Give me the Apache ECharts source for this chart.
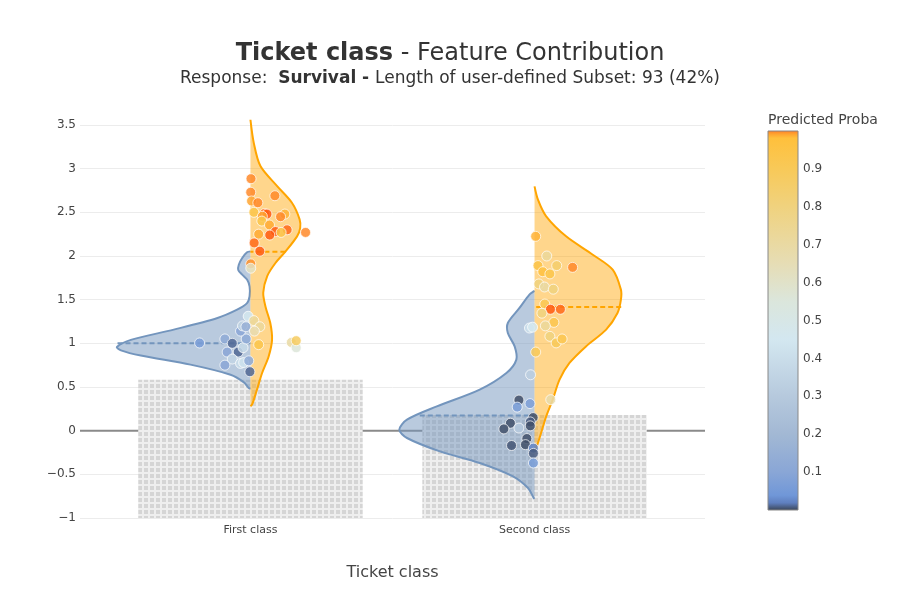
<!DOCTYPE html>
<html><head><meta charset="utf-8">
<script src="https://cdn.jsdelivr.net/npm/echarts@6/dist/echarts.min.js"></script>
<style>html,body{margin:0;padding:0;background:#fff}#c{width:900px;height:600px}</style>
</head><body><div id="c"></div>
<script>
// ---------- data ----------
const categories = ['First class', 'Second class'];
const barValues = [0.584, 0.18];
const colorbarTicks = [0.1, 0.2, 0.3, 0.4, 0.5, 0.6, 0.7, 0.8, 0.9];

// violin outlines: [contribution, half width] from top to bottom
const firstNeg = [[2.053,0],[2.042,0.012],[1.977,0.029],[1.90,0.041],[1.84,0.043],[1.786,0.029],[1.73,0.012],[1.65,0.003],[1.54,0.003],[1.46,0.012],[1.385,0.047],[1.29,0.116],[1.157,0.27],[1.04,0.421],[0.958,0.47],[0.92,0.456],[0.86,0.386],[0.756,0.211],[0.64,0.07],[0.553,0.023],[0.489,0.006],[0.48,0]];
const firstPos = [[3.56,0],[3.29,0.012],[3.03,0.035],[2.80,0.094],[2.61,0.146],[2.42,0.173],[2.32,0.175],[2.225,0.164],[2.05,0.123],[1.92,0.088],[1.77,0.059],[1.58,0.045],[1.42,0.053],[1.23,0.07],[1.04,0.076],[0.85,0.064],[0.66,0.041],[0.47,0.023],[0.30,0.006],[0.28,0]];
const secondNeg = [[1.6,0],[1.595,0.003],[1.557,0.018],[1.405,0.053],[1.233,0.094],[1.118,0.094],[0.965,0.07],[0.813,0.064],[0.66,0.099],[0.47,0.193],[0.278,0.344],[0.126,0.449],[0.011,0.476],[-0.084,0.449],[-0.237,0.333],[-0.37,0.193],[-0.523,0.076],[-0.657,0.023],[-0.77,0.003],[-0.78,0]];
const secondPos = [[2.797,0],[2.645,0.012],[2.454,0.041],[2.225,0.111],[2.015,0.205],[1.844,0.275],[1.615,0.304],[1.50,0.304],[1.347,0.292],[1.157,0.252],[0.965,0.181],[0.775,0.123],[0.584,0.088],[0.355,0.064],[0.164,0.041],[-0.027,0.023],[-0.18,0.008],[-0.237,0]];
// mean lines: [contribution, half width]
const meanFirstNeg = [1.0, 0.468];
const meanFirstPos = [2.05, 0.123];
const meanSecondNeg = [0.175, 0.404];
const meanSecondPos = [1.416, 0.305];

// scatter points: [x position, contribution, predicted proba]
const firstClassPoints = [
 [0.002,2.885,0.997],[0.001,2.73,0.997],[0.086,2.69,0.997],[0.004,2.63,0.99],[0.026,2.61,0.997],
 [0.012,2.50,0.94],[0.049,2.485,0.999],[0.058,2.48,1.0],[0.042,2.455,0.99],[0.040,2.40,0.94],
 [0.121,2.48,0.985],[0.106,2.45,0.997],[0.067,2.355,0.988],[0.088,2.28,1.0],[0.129,2.30,0.999],
 [0.108,2.27,0.95],[0.068,2.24,1.0],[0.029,2.25,0.988],[0.194,2.27,0.997],[0.013,2.15,0.999],
 [0.033,2.055,1.0],[0.001,1.91,0.995],[0.001,1.86,0.62],
 [-0.179,1.004,0.06],[-0.090,1.05,0.12],[-0.064,1.00,0.012],[-0.082,0.90,0.1],[-0.043,0.90,0.012],
 [-0.026,0.95,0.38],[-0.015,1.05,0.12],[-0.035,1.14,0.1],[-0.028,1.20,0.35],[-0.008,1.31,0.46],
 [-0.016,1.19,0.15],[0.012,1.26,0.72],[0.033,1.19,0.72],[0.014,1.14,0.66],[0.029,0.985,0.94],
 [-0.064,0.82,0.36],[-0.090,0.75,0.1],[-0.035,0.77,0.4],[-0.024,0.78,0.42],[-0.006,0.80,0.12],
 [-0.002,0.675,0.012],[0.144,1.01,0.7],[0.161,0.95,0.56],[0.161,1.03,0.88]
];
const secondClassPoints = [
 [1.004,2.225,0.985],[1.043,2.00,0.72],[1.012,1.89,0.95],[1.029,1.82,0.975],[1.054,1.795,0.94],
 [1.078,1.89,0.85],[1.134,1.87,0.997],[1.015,1.68,0.8],[1.035,1.645,0.7],[1.066,1.62,0.8],
 [1.036,1.45,0.92],[1.056,1.39,1.0],[1.091,1.39,0.999],[1.026,1.345,0.8],[1.068,1.24,0.93],
 [1.038,1.20,0.72],[1.054,1.08,0.8],[1.076,1.005,0.9],[1.097,1.05,0.93],[1.004,0.90,0.9],
 [1.057,0.355,0.68],
 [0.982,1.175,0.42],[0.993,1.185,0.46],[0.986,0.64,0.33],[0.945,0.35,0.004],[0.939,0.27,0.06],
 [0.984,0.31,0.07],[0.995,0.15,0.004],[0.985,0.10,0.008],[0.915,0.085,0.004],[0.985,0.055,0.004],
 [0.892,0.02,0.004],[0.945,0.03,0.3],[0.973,-0.09,0.004],[0.968,-0.16,0.004],[0.919,-0.17,0.006],
 [0.996,-0.20,0.025],[0.996,-0.26,0.008],[0.996,-0.37,0.06]
];

// colour scale of predicted proba: [proba, colour]
const colorStops = [[0,'#394354'],[0.02,'#5f7fbf'],[0.04,'#7097d8'],[0.1,'#89a6d6'],[0.2,'#a2b8d4'],[0.3,'#b6c9dd'],[0.45,'#d3e7f0'],[0.55,'#dbe6dc'],[0.65,'#e6ddb5'],[0.8,'#f0d27e'],[0.9,'#f8c958'],[0.98,'#ffc03c'],[0.99,'#ffa530'],[0.997,'#ff8a2a'],[1,'#ff5a10']];

// ---------- helpers ----------
function hexToRgb(h){return [parseInt(h.slice(1,3),16),parseInt(h.slice(3,5),16),parseInt(h.slice(5,7),16)];}
function colorAt(p){
  for(let i=1;i<colorStops.length;i++){
    const [v1,c1]=colorStops[i-1],[v2,c2]=colorStops[i];
    if(p<=v2){const t=Math.max(0,(p-v1)/(v2-v1));const a=hexToRgb(c1),b=hexToRgb(c2);
      return 'rgb('+a.map((x,k)=>Math.round(x+(b[k]-x)*t)).join(',')+')';}
  }
  return colorStops[colorStops.length-1][1];
}
const FONT = 'DejaVu Sans';
const pc=document.createElement('canvas');pc.width=6;pc.height=6;
const g=pc.getContext('2d');g.fillStyle='#eeeeee';g.fillRect(0,0,6,6);g.fillStyle='#d5d5d5';g.fillRect(0,0,4,4);

const BLUE_LINE='#7395bd', BLUE_FILL='rgba(115,149,189,0.5)';
const ORANGE_LINE='#ffa500', ORANGE_FILL='rgba(255,165,0,0.45)';
const violinCfg = [
  {center:0, side:-1, outline:firstNeg, mean:meanFirstNeg, line:BLUE_LINE, fill:BLUE_FILL},
  {center:0, side:1, outline:firstPos, mean:meanFirstPos, line:ORANGE_LINE, fill:ORANGE_FILL},
  {center:1, side:-1, outline:secondNeg, mean:meanSecondNeg, line:BLUE_LINE, fill:BLUE_FILL},
  {center:1, side:1, outline:secondPos, mean:meanSecondPos, line:ORANGE_LINE, fill:ORANGE_FILL}
];
function violinSeries(cfg){
  return {type:'custom', xAxisIndex:0, yAxisIndex:0, z:3, silent:true,
    data:[[cfg.center, cfg.mean[0]]],
    renderItem:(params, api)=>{
      const c=cfg.center, s=cfg.side;
      const outline=cfg.outline.map(([y,w])=>api.coord([c+s*w,y]));
      const inner=cfg.outline.slice(1,-1).reverse().map(([y])=>api.coord([c,y]));
      const m0=api.coord([c+s*cfg.mean[1],cfg.mean[0]]), m1=api.coord([c,cfg.mean[0]]);
      return {type:'group',children:[
        {type:'polygon',shape:{points:outline.concat(inner),smooth:0.3},style:{fill:cfg.fill}},
        {type:'polyline',shape:{points:outline,smooth:0.3},style:{stroke:cfg.line,lineWidth:2,fill:null}},
        {type:'line',shape:{x1:m0[0],y1:m0[1],x2:m1[0],y2:m1[1]},style:{stroke:cfg.line,lineWidth:2,lineDash:[5,3]}}
      ]};
    }};
}
function scatterSeries(points){
  return {type:'scatter', xAxisIndex:0, yAxisIndex:0, z:5, data:points, symbolSize:10,
    itemStyle:{color:p=>colorAt(p.value[2]), borderColor:'rgba(255,255,255,0.85)', borderWidth:1, opacity:0.85}};
}

const chart = echarts.init(document.getElementById('c'), null, {renderer:'canvas'});
chart.setOption({
  animation:false,
  backgroundColor:'#fff',
  title:[
    {text:'{b|Ticket class}{n| - Feature Contribution}', left:'center', top:37,
     textStyle:{fontWeight:'normal',rich:{b:{fontFamily:FONT,fontSize:24,fontWeight:'bold',color:'#333'},n:{fontFamily:FONT,fontSize:24,fontWeight:'normal',color:'#333'}}}},
    {text:'{n|Response:  }{b|Survival - }{n|Length of user-defined Subset: 93 (42%)}', left:'center', top:65,
     textStyle:{fontWeight:'normal',rich:{b:{fontFamily:FONT,fontSize:17,fontWeight:'bold',color:'#333'},n:{fontFamily:FONT,fontSize:17,fontWeight:'normal',color:'#333'}}}},
    {text:'Predicted Proba', left:763, top:108, textStyle:{fontFamily:FONT,fontSize:14,fontWeight:'normal',color:'#444'}}
  ],
  grid:[
    {left:80, right:195, top:125, bottom:82},
    {left:768, width:30, top:131, height:379}
  ],
  xAxis:[
    {type:'value', gridIndex:0, min:-0.6, max:1.6,
     axisLine:{show:false}, axisTick:{show:false}, splitLine:{show:false},
     axisLabel:{customValues:[0,1], margin:7, fontFamily:FONT, fontSize:11, color:'#444',
       formatter:v=>(Number.isInteger(v)&&categories[v])?categories[v]:''},
     name:'Ticket class', nameLocation:'middle', nameGap:47,
     nameTextStyle:{fontFamily:FONT,fontSize:16,color:'#444'}},
    {type:'value', gridIndex:1, min:0, max:1, show:false}
  ],
  yAxis:[
    {type:'value', gridIndex:0, min:-1, max:3.5, interval:0.5,
     axisLine:{show:false}, axisTick:{show:false},
     splitLine:{lineStyle:{color:'#ececec',width:1}},
     axisLabel:{margin:4, fontFamily:FONT, fontSize:12, color:'#444', formatter:v=>String(v).replace('-','\u2212')}},
    {type:'value', gridIndex:1, min:0, max:1, interval:0.1, position:'right',
     axisLine:{show:false}, axisTick:{show:false}, splitLine:{show:false},
     axisLabel:{margin:5, fontFamily:FONT, fontSize:12, color:'#444',
       formatter:v=>colorbarTicks.some(t=>Math.abs(t-v)<1e-6)?v.toFixed(1):''}}
  ],
  series:[
    {type:'custom', xAxisIndex:0, yAxisIndex:0, z:1, silent:true, data:[[0,0]],
     renderItem:(params, api)=>{const cs=params.coordSys;const y=api.coord([0,0])[1];
       return {type:'line',shape:{x1:cs.x,y1:y,x2:cs.x+cs.width,y2:y},style:{stroke:'#8a8a8a',lineWidth:2}};}},
    {type:'custom', xAxisIndex:0, yAxisIndex:0, z:2, silent:true,
     data:barValues.map((v,i)=>[i,v]),
     renderItem:(params, api)=>{const x=api.value(0),v=api.value(1);
       const p0=api.coord([x-0.395,v]), p1=api.coord([x+0.395,-1]);
       return {type:'rect',shape:{x:p0[0],y:p0[1],width:p1[0]-p0[0],height:p1[1]-p0[1]},
         style:{fill:{image:pc,repeat:'repeat'}}};}},
    ...violinCfg.map(violinSeries),
    scatterSeries(firstClassPoints),
    scatterSeries(secondClassPoints),
    {type:'custom', xAxisIndex:1, yAxisIndex:1, z:2, silent:true, data:[[0,0]],
     renderItem:(params, api)=>{const cs=params.coordSys;
       return {type:'rect',shape:{x:cs.x,y:cs.y,width:cs.width,height:cs.height},
         style:{fill:new echarts.graphic.LinearGradient(0,1,0,0,colorStops.map(([o,c])=>({offset:o,color:c}))),
           stroke:'#888',lineWidth:1}};}}
  ]
});
</script></body></html>
